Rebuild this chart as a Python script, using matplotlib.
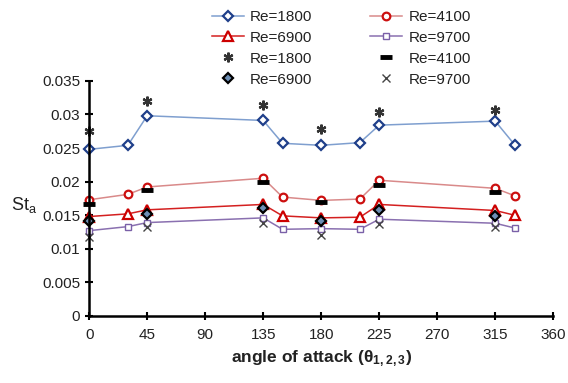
import matplotlib
matplotlib.use('Agg')
import matplotlib.pyplot as plt
import numpy as np

plt.rcParams['font.family'] = ['Liberation Sans', 'DejaVu Sans']

# angles of the measured lines
angle_line = [0, 30, 45, 135, 150, 180, 210, 225, 315, 330]
st_1800 = [0.0248, 0.0254, 0.0298, 0.0291, 0.0257, 0.0254, 0.0258, 0.0284, 0.0290, 0.0255]
st_4100 = [0.0173, 0.0181, 0.0192, 0.0205, 0.0177, 0.0172, 0.0174, 0.0202, 0.0190, 0.0179]
st_6900 = [0.0148, 0.0152, 0.0158, 0.0166, 0.0149, 0.0146, 0.0147, 0.0166, 0.0157, 0.0150]
st_9700 = [0.0127, 0.0133, 0.0139, 0.0146, 0.0129, 0.0130, 0.0129, 0.0144, 0.0138, 0.0131]

# angles of the separate point series
angle_pts = [0, 45, 135, 180, 225, 315]
pt_1800 = [0.0276, 0.0320, 0.0314, 0.0279, 0.0303, 0.0306]
pt_4100 = [0.0166, 0.0187, 0.0199, 0.0170, 0.0195, 0.0184]
pt_6900 = [0.0141, 0.0152, 0.0161, 0.0141, 0.0157, 0.0149]
pt_9700 = [0.0118, 0.0133, 0.0138, 0.0121, 0.0137, 0.0132]

x_ticks = [0, 45, 90, 135, 180, 225, 270, 315, 360]
y_ticks = [0, 0.005, 0.01, 0.015, 0.02, 0.025, 0.03, 0.035]
y_labels = ['0', '0.005', '0.01', '0.015', '0.02', '0.025', '0.03', '0.035']

fig = plt.figure(figsize=(5.68, 3.83), dpi=100)
ax = fig.add_axes([0.157, 0.175, 0.817, 0.614])

h = {}
h['l1800'], = ax.plot(angle_line, st_1800, '-', color='#7f9fcf', lw=1.1, marker='D', ms=5,
                      mfc='white', mec='#1f3f8a', mew=1.6, label='Re=1800', clip_on=False)
h['l4100'], = ax.plot(angle_line, st_4100, '-', color='#d98a8a', lw=1.1, marker='o', ms=5.5,
                      mfc='white', mec='#cc1010', mew=1.6, label='Re=4100', clip_on=False)
h['l6900'], = ax.plot(angle_line, st_6900, '-', color='#d42020', lw=1.1, marker='^', ms=6.5,
                      mfc='white', mec='#cc0000', mew=1.6, label='Re=6900', clip_on=False)
h['l9700'], = ax.plot(angle_line, st_9700, '-', color='#8a70b0', lw=1.1, marker='s', ms=5,
                      mfc='white', mec='#7a60a8', mew=1.0, label='Re=9700', clip_on=False)

h['p1800'], = ax.plot(angle_pts, pt_1800, ls='none', marker=(6, 2, 0), ms=7, mec='#333333',
                      mew=1.6, label='Re=1800', clip_on=False)
h['p4100'], = ax.plot(angle_pts, pt_4100, ls='none', marker='_', ms=8, mec='black',
                      mew=3.5, label='Re=4100', clip_on=False)
h['p6900'], = ax.plot(angle_pts, pt_6900, ls='none', marker='D', ms=5, mfc='#6d8fb5',
                      mec='black', mew=1.6, label='Re=6900', clip_on=False)
h['p9700'], = ax.plot(angle_pts, pt_9700, ls='none', marker='x', ms=6, mec='#444444',
                      mew=1.0, label='Re=9700', clip_on=False)

ax.set_xlim(0, 360)
ax.set_ylim(0, 0.035)
ax.set_xticks(x_ticks)
ax.set_yticks(y_ticks)
ax.set_xticklabels([str(t) for t in x_ticks])
ax.set_yticklabels(y_labels)
ax.tick_params(direction='inout', length=6, width=1.5, labelsize=11, labelcolor='#222222')
ax.tick_params(axis='x', pad=6)
for s in ['top', 'right']:
    ax.spines[s].set_visible(False)
for s in ['left', 'bottom']:
    ax.spines[s].set_linewidth(1.8)

ax.set_xlabel('angle of attack ($\\mathregular{\\theta_{1,2,3}}$)', fontsize=12.5,
              fontweight='bold', color='#222222', labelpad=4)
ax.text(-0.168, 0.47, 'St$_\\mathregular{a}$', transform=ax.transAxes, fontsize=13,
        ha='left', va='center', color='#222222')

order = ['l1800', 'l6900', 'p1800', 'p6900', 'l4100', 'l9700', 'p4100', 'p9700']
leg = ax.legend([h[k] for k in order], [h[k].get_label() for k in order], ncol=2,
                frameon=False, fontsize=11, loc='upper left',
                bbox_to_anchor=(0.362, 0.99), bbox_transform=fig.transFigure,
                borderaxespad=0, handlelength=2.1, columnspacing=3.8,
                labelspacing=0.45, handletextpad=0.4)
for t in leg.get_texts():
    t.set_color('#222222')

fig.savefig('out.png', dpi=100)
